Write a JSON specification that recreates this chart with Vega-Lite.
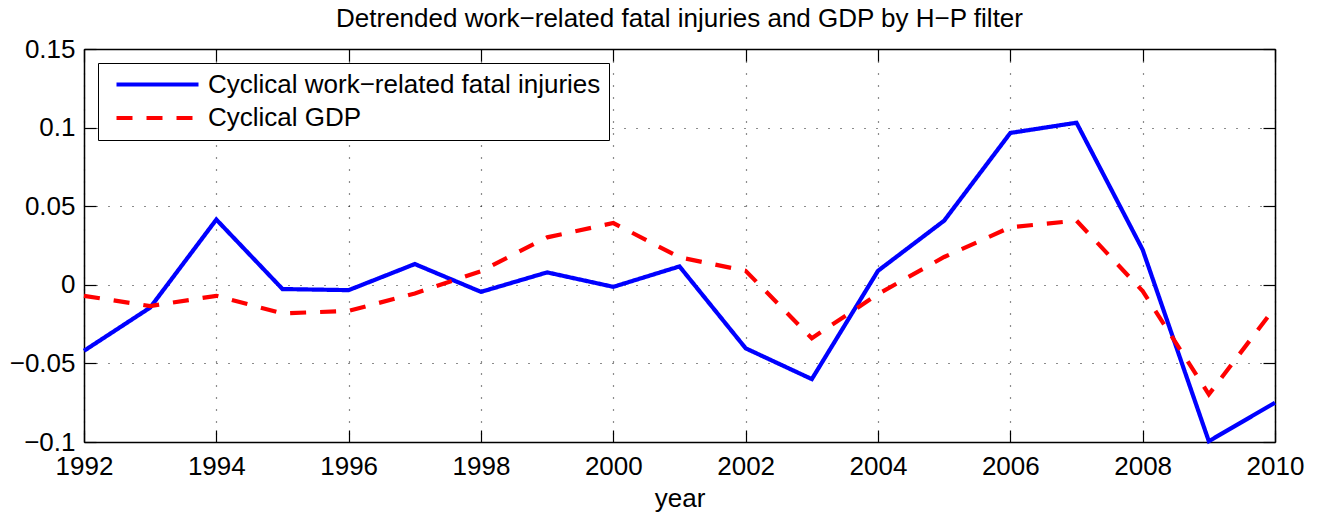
{
  "$schema": "https://vega.github.io/schema/vega-lite/v6.json",
  "autosize": {"type": "none"},
  "width": 1191,
  "height": 393,
  "padding": {"left": 84, "top": 49, "right": 48, "bottom": 74},
  "background": "white",
  "title": {
    "text": "Detrended work−related fatal injuries and GDP by H−P filter",
    "font": "Liberation Sans",
    "fontSize": 26,
    "fontWeight": "normal",
    "color": "black",
    "anchor": "middle",
    "offset": 4
  },
  "config": {
    "view": {"stroke": null},
    "axis": {
      "labelFont": "Liberation Sans",
      "labelFontSize": 26,
      "labelColor": "black",
      "titleFont": "Liberation Sans",
      "titleFontSize": 26,
      "titleFontWeight": "normal",
      "titleColor": "black",
      "domainColor": "black",
      "domainWidth": 1.5,
      "tickColor": "black",
      "tickWidth": 1.2,
      "tickSize": -12,
      "gridColor": "black",
      "gridDash": [1, 11],
      "gridWidth": 1.2,
      "gridOpacity": 0.9
    }
  },
  "data": {
    "values": [
      {"year": 1992, "series": "Cyclical work−related fatal injuries", "value": -0.042},
      {"year": 1993, "series": "Cyclical work−related fatal injuries", "value": -0.0145},
      {"year": 1994, "series": "Cyclical work−related fatal injuries", "value": 0.0415},
      {"year": 1995, "series": "Cyclical work−related fatal injuries", "value": -0.0027},
      {"year": 1996, "series": "Cyclical work−related fatal injuries", "value": -0.0034},
      {"year": 1997, "series": "Cyclical work−related fatal injuries", "value": 0.0132},
      {"year": 1998, "series": "Cyclical work−related fatal injuries", "value": -0.0045},
      {"year": 1999, "series": "Cyclical work−related fatal injuries", "value": 0.0079},
      {"year": 2000, "series": "Cyclical work−related fatal injuries", "value": -0.0013},
      {"year": 2001, "series": "Cyclical work−related fatal injuries", "value": 0.0117},
      {"year": 2002, "series": "Cyclical work−related fatal injuries", "value": -0.0404},
      {"year": 2003, "series": "Cyclical work−related fatal injuries", "value": -0.06},
      {"year": 2004, "series": "Cyclical work−related fatal injuries", "value": 0.0089},
      {"year": 2005, "series": "Cyclical work−related fatal injuries", "value": 0.0408},
      {"year": 2006, "series": "Cyclical work−related fatal injuries", "value": 0.0966},
      {"year": 2007, "series": "Cyclical work−related fatal injuries", "value": 0.1031},
      {"year": 2008, "series": "Cyclical work−related fatal injuries", "value": 0.0223},
      {"year": 2009, "series": "Cyclical work−related fatal injuries", "value": -0.0995},
      {"year": 2010, "series": "Cyclical work−related fatal injuries", "value": -0.075},
      {"year": 1992, "series": "Cyclical GDP", "value": -0.007},
      {"year": 1993, "series": "Cyclical GDP", "value": -0.0135},
      {"year": 1994, "series": "Cyclical GDP", "value": -0.007},
      {"year": 1995, "series": "Cyclical GDP", "value": -0.0182},
      {"year": 1996, "series": "Cyclical GDP", "value": -0.0166},
      {"year": 1997, "series": "Cyclical GDP", "value": -0.0055},
      {"year": 1998, "series": "Cyclical GDP", "value": 0.0087},
      {"year": 1999, "series": "Cyclical GDP", "value": 0.0302},
      {"year": 2000, "series": "Cyclical GDP", "value": 0.0393},
      {"year": 2001, "series": "Cyclical GDP", "value": 0.0175},
      {"year": 2002, "series": "Cyclical GDP", "value": 0.0089},
      {"year": 2003, "series": "Cyclical GDP", "value": -0.034},
      {"year": 2004, "series": "Cyclical GDP", "value": -0.0059},
      {"year": 2005, "series": "Cyclical GDP", "value": 0.0177},
      {"year": 2006, "series": "Cyclical GDP", "value": 0.0366},
      {"year": 2007, "series": "Cyclical GDP", "value": 0.0408},
      {"year": 2008, "series": "Cyclical GDP", "value": -0.004},
      {"year": 2009, "series": "Cyclical GDP", "value": -0.0697},
      {"year": 2010, "series": "Cyclical GDP", "value": -0.0144}
    ]
  },
  "layer": [
    {
      "mark": {"type": "point", "opacity": 0},
      "encoding": {
        "x": {
          "field": "year", "type": "quantitative",
          "scale": {"domain": [1992, 2010], "nice": false, "zero": false},
          "axis": {"orient": "top", "values": [1992,1994,1996,1998,2000,2002,2004,2006,2008,2010], "labels": false, "grid": false, "title": null, "domain": true}
        },
        "y": {
          "field": "value", "type": "quantitative",
          "scale": {"domain": [-0.1, 0.15], "nice": false, "zero": false},
          "axis": {"orient": "right", "values": [-0.1,-0.05,0,0.05,0.1,0.15], "labels": false, "grid": false, "title": null, "domain": true}
        }
      }
    },
    {
      "mark": {"type": "line", "strokeWidth": 4.2, "strokeJoin": "miter", "clip": false},
      "encoding": {
        "x": {
          "field": "year", "type": "quantitative",
          "axis": {"orient": "bottom", "values": [1992,1994,1996,1998,2000,2002,2004,2006,2008,2010], "format": "d", "title": "year", "labelPadding": 23, "titlePadding": 6, "grid": true, "labelFlush": false}
        },
        "y": {
          "field": "value", "type": "quantitative",
          "axis": {"orient": "left", "values": [-0.1,-0.05,0,0.05,0.1,0.15], "format": ".2~f", "title": null, "labelPadding": 21, "grid": true}
        },
        "color": {
          "field": "series", "type": "nominal",
          "scale": {"domain": ["Cyclical work−related fatal injuries", "Cyclical GDP"], "range": ["#0000ff", "#ff0000"]},
          "legend": {
            "title": null,
            "orient": "none",
            "legendX": 14,
            "legendY": 14,
            "symbolType": "stroke",
            "symbolSize": 6724,
            "symbolStrokeWidth": 4.2,
            "clipHeight": 27,
            "rowPadding": 6.5,
            "padding": 8,
            "symbolOffset": 8,
            "labelOffset": 7,
            "labelFont": "Liberation Sans",
            "labelFontSize": 26,
            "labelColor": "black",
            "strokeColor": "black",
            "fillColor": "white",
            "labelLimit": 0
          }
        },
        "strokeDash": {
          "field": "series", "type": "nominal",
          "scale": {"domain": ["Cyclical work−related fatal injuries", "Cyclical GDP"], "range": [[1, 0], [16, 14]]},
          "legend": null
        }
      }
    }
  ],
  "resolve": {"axis": {"x": "independent", "y": "independent"}}
}
